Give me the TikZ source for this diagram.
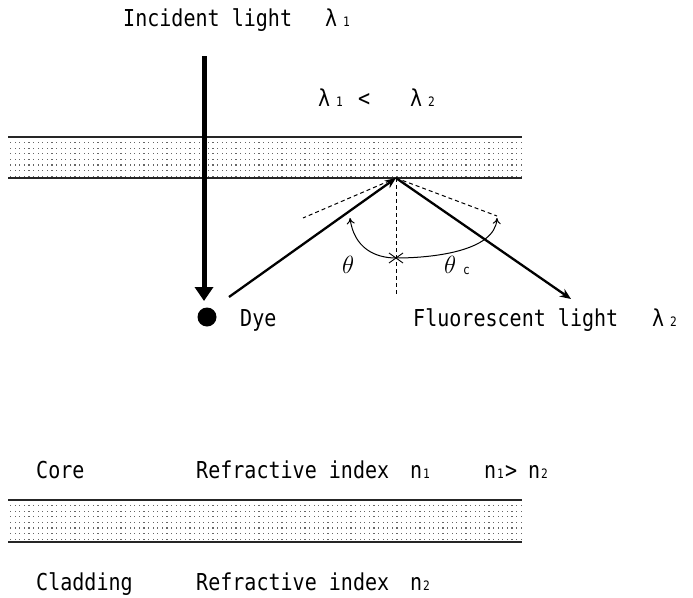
\documentclass[tikz,border=0pt]{standalone}
\usepackage{fontspec}
\newfontfamily\mono[FakeStretch=0.86]{DejaVu Sans Mono}
\usetikzlibrary{arrows.meta}
\tikzset{
  lbl/.style={anchor=base west, inner sep=0pt, font=\mono\fontsize{23.3}{28}\selectfont},
  sub/.style={anchor=base west, inner sep=0pt, font=\mono\fontsize{13}{15}\selectfont},
  bandline/.style={line width=1.2pt, black!85},
  ray/.style={line width=2.3pt, -{Stealth[length=11pt,width=9pt]}},
  dsh/.style={line width=1pt, dash pattern=on 4pt off 3pt},
}
\newcommand{\dotband}[2]{%
  \foreach \yy in {0,...,6}{%
    \foreach \xx in {0,...,111}{%
      \fill[black!60] ({10+\xx*4.6},{#1+5+\yy*5.6}) rectangle ++(1.2,1.2);
    }}%
  \draw[bandline] (8,#1) -- (522,#1);
  \draw[bandline] (8,#2) -- (522,#2);
}
\begin{document}
\begin{tikzpicture}[x=1pt,y=-1pt]
\useasboundingbox (0,0) rectangle (693,597);
\fill[white] (0,0) rectangle (693,597);
% bands
\dotband{137}{178}
\dotband{500}{542}
% texts
\node[lbl] (inc) at (123,27) {Incident light};
\node[lbl] (l1) at (325,27) {λ};
\node[sub] (l1s) at (343,27) {1};
\node[lbl] (cmpA) at (318,106) {λ};
\node[sub] (cmpAs) at (336,106) {1};
\node[lbl] (cmpB) at (358,106) {<};
\node[lbl] (cmpC) at (410,106) {λ};
\node[sub] (cmpCs) at (428,106) {2};
% incident arrow
\coordinate (a0) at (204,56);
\coordinate (a1) at (204,301);
\draw[line width=5pt, -{Triangle[length=14pt,width=18pt]}] (a0) -- (a1);
% rays
\coordinate (R) at (396,178);
\coordinate (S) at (229,297);
\coordinate (T) at (571,299);
\draw[ray] (S) -- (R);
\draw[ray] (R) -- (T);
% dashed lines
\coordinate (N) at (396,296);
\coordinate (DL) at (303,218);
\coordinate (DR) at (497,216);
\draw[dsh] (R) -- (N);
\draw[dsh] (R) -- (DL);
\draw[dsh] (R) -- (DR);
% angle arc
\coordinate (AL) at (350,218);
\coordinate (AC) at (396,258);
\coordinate (AR) at (497,218);
\draw[line width=1pt, {To[length=6pt,width=8pt]}-{To[length=6pt,width=8pt]}]
  (AL) .. controls (354,248) and (375,258) .. (AC)
       .. controls (430,258) and (495,252) .. (AR);
\draw[line width=0.9pt] (389,253) -- (403,263) (389,263) -- (403,253);
\node[anchor=base west, inner sep=0pt, font=\fontsize{28}{32}\selectfont] (th) at (342,273) {$\theta$};
\node[anchor=base west, inner sep=0pt, font=\fontsize{28}{32}\selectfont] (thc) at (444,273) {$\theta$};
\node[sub] (thcs) at (463,274) {c};
% dye
\fill (207,317) circle (9.5);
\node[lbl] (dye) at (240,326) {Dye};
\node[lbl] (fl) at (413,326) {Fluorescent light};
\node[lbl] (l2) at (652,326) {λ};
\node[sub] (l2s) at (670,326) {2};
% core / cladding
\node[lbl] (core) at (36,478) {Core};
\node[lbl] (ri1) at (196,478) {Refractive index};
\node[lbl] (n1) at (410,478) {n};
\node[sub] (n1s) at (423,478) {1};
\node[lbl] (cmp2) at (484,478) {n};
\node[sub] (cmp2s) at (497,478) {1};
\node[lbl] (gt) at (505,478) {>};
\node[lbl] (cmp2b) at (528,478) {n};
\node[sub] (cmp2bs) at (541,478) {2};
\node[lbl] (clad) at (36,590) {Cladding};
\node[lbl] (ri2) at (196,590) {Refractive index};
\node[lbl] (n2) at (410,590) {n};
\node[sub] (n2s) at (423,590) {2};
\end{tikzpicture}
\end{document}
